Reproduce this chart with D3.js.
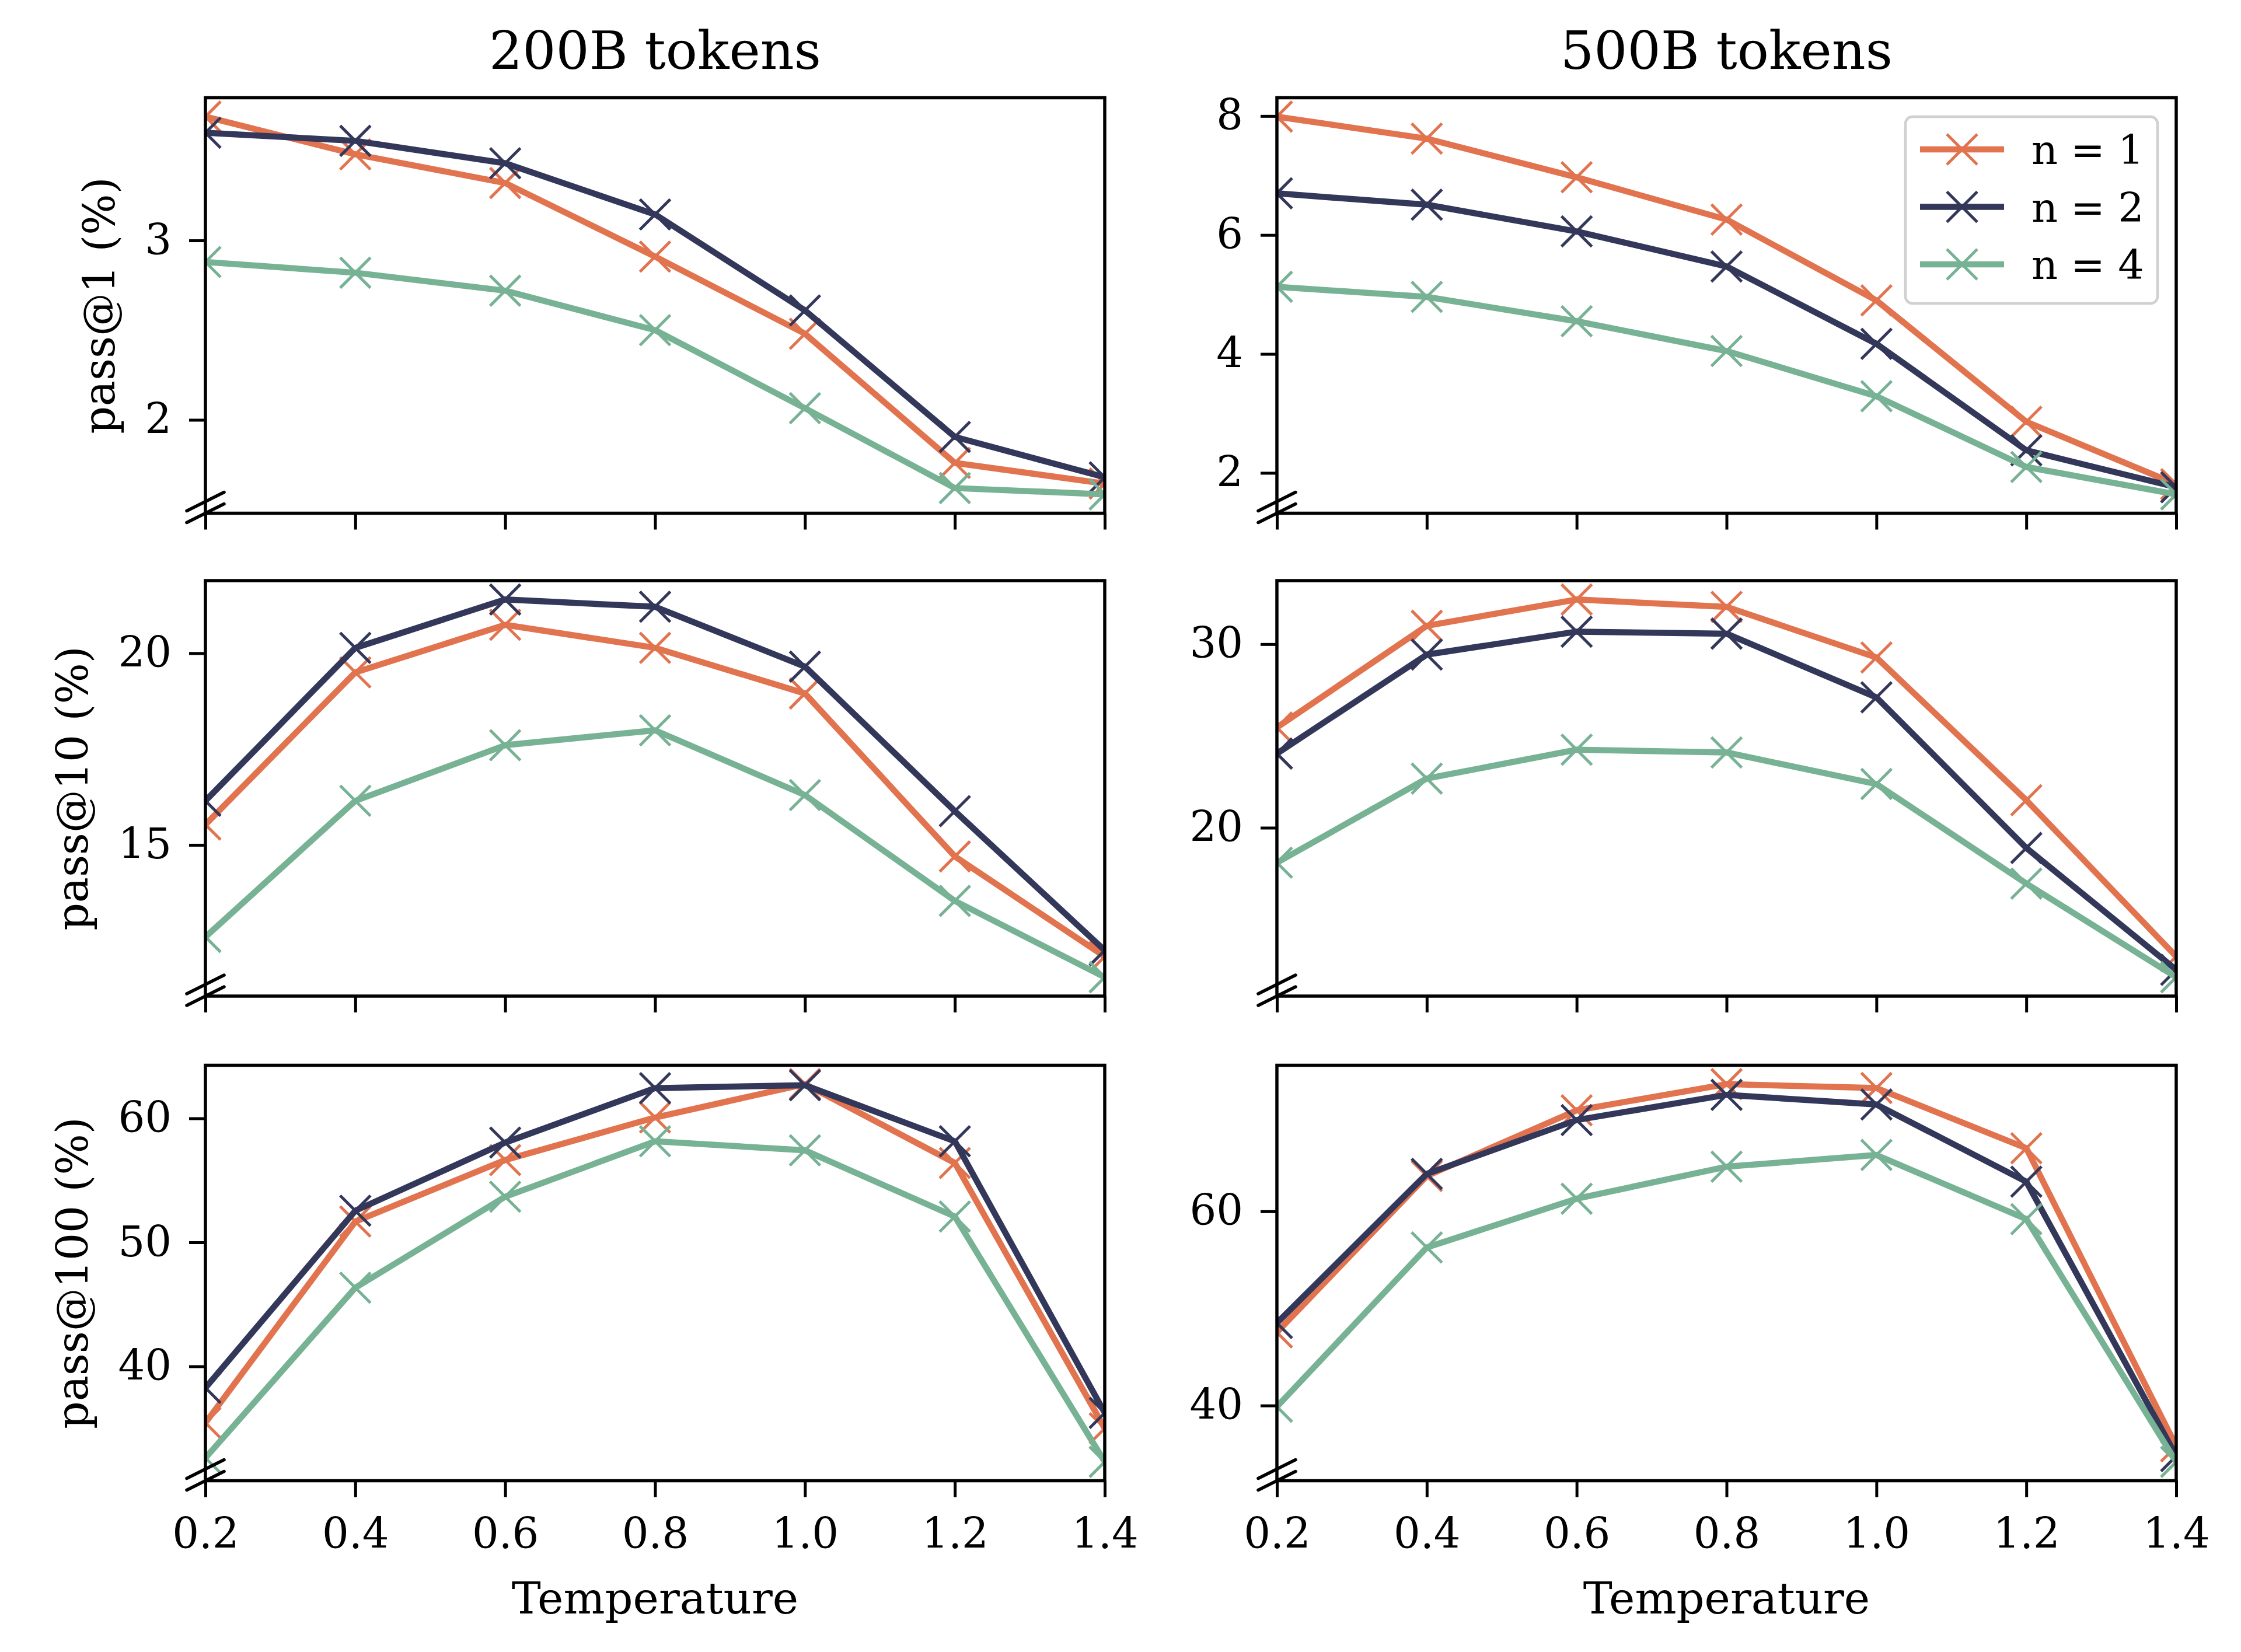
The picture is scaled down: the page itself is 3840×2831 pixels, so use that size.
<!DOCTYPE html>
<html>
<head>
<meta charset="utf-8">
<script src="https://cdn.jsdelivr.net/npm/d3@7"></script>
<style>
  html, body { margin: 0; padding: 0; background: #fff; }
  text { font-family: "DejaVu Serif", serif; fill: #000; }
</style>
</head>
<body>
<div id="chart"></div>
<script>
// x values shared by every panel
const temperatures = [0.2, 0.4, 0.6, 0.8, 1.0, 1.2, 1.4];
const seriesLabels = ["n = 1", "n = 2", "n = 4"];
const seriesColors = ["#E2734F", "#33375A", "#77B295"];
const columnTitles = ["200B tokens", "500B tokens"];
const rowLabels = ["pass@1 (%)", "pass@10 (%)", "pass@100 (%)"];

// pass@1, 200B tokens
const p1_200B_n1 = [3.69, 3.48, 3.32, 2.91, 2.48, 1.76, 1.645];
const p1_200B_n2 = [3.60, 3.555, 3.43, 3.145, 2.61, 1.905, 1.68];
const p1_200B_n4 = [2.88, 2.82, 2.72, 2.50, 2.065, 1.62, 1.585];
// pass@1, 500B tokens
const p1_500B_n1 = [7.99, 7.62, 6.97, 6.26, 4.90, 2.86, 1.81];
const p1_500B_n2 = [6.70, 6.51, 6.06, 5.47, 4.17, 2.38, 1.76];
const p1_500B_n4 = [5.13, 4.96, 4.55, 4.05, 3.29, 2.10, 1.64];
// pass@10, 200B tokens
const p10_200B_n1 = [15.53, 19.5, 20.74, 20.14, 18.95, 14.70, 12.09];
const p10_200B_n2 = [16.15, 20.14, 21.4, 21.21, 19.65, 15.88, 12.25];
const p10_200B_n4 = [12.6, 16.15, 17.6, 17.99, 16.3, 13.54, 11.55];
// pass@10, 500B tokens
const p10_500B_n1 = [25.46, 31.0, 32.43, 32.03, 29.27, 21.5, 12.99];
const p10_500B_n2 = [24.04, 29.43, 30.68, 30.57, 27.1, 18.9, 12.26];
const p10_500B_n4 = [18.1, 22.68, 24.25, 24.1, 22.38, 16.96, 11.86];
// pass@100, 200B tokens
const p100_200B_n1 = [35.45, 51.68, 56.64, 60.07, 62.76, 56.4, 35.0];
const p100_200B_n2 = [38.27, 52.55, 58.05, 62.44, 62.67, 58.15, 36.25];
const p100_200B_n4 = [32.62, 46.34, 53.68, 58.15, 57.42, 52.08, 32.3];
// pass@100, 500B tokens
const p100_500B_n1 = [47.54, 63.64, 70.4, 73.1, 72.7, 66.5, 35.8];
const p100_500B_n2 = [48.5, 63.86, 69.4, 72.0, 71.0, 63.05, 34.8];
const p100_500B_n4 = [39.88, 56.28, 61.3, 64.6, 65.8, 59.2, 34.2];

// y tick values per panel
const yTicks_p1_200B = [2, 3];
const yTicks_p1_500B = [2, 4, 6, 8];
const yTicks_p10_200B = [15, 20];
const yTicks_p10_500B = [20, 30];
const yTicks_p100_200B = [40, 50, 60];
const yTicks_p100_500B = [40, 60];

const W = 3840, H = 2831;
const colLeft = [352, 2188];
const rowTop = [167.5, 995, 1825.5];
const pw = 1541, ph = 712;

const panels = [
    {row: 0, col: 0, series: [p1_200B_n1, p1_200B_n2, p1_200B_n4], ticks: yTicks_p1_200B},
    {row: 0, col: 1, series: [p1_500B_n1, p1_500B_n2, p1_500B_n4], ticks: yTicks_p1_500B},
    {row: 1, col: 0, series: [p10_200B_n1, p10_200B_n2, p10_200B_n4], ticks: yTicks_p10_200B},
    {row: 1, col: 1, series: [p10_500B_n1, p10_500B_n2, p10_500B_n4], ticks: yTicks_p10_500B},
    {row: 2, col: 0, series: [p100_200B_n1, p100_200B_n2, p100_200B_n4], ticks: yTicks_p100_200B},
    {row: 2, col: 1, series: [p100_500B_n1, p100_500B_n2, p100_500B_n4], ticks: yTicks_p100_500B}
];

const svg = d3.select("#chart").append("svg")
    .attr("width", W)
    .attr("height", H);

const crossPath = s => `M${-s},${-s}L${s},${s}M${-s},${s}L${s},${-s}`;

panels.forEach((p, idx) => {
    const g = svg.append("g")
        .attr("transform", `translate(${colLeft[p.col]},${rowTop[p.row]})`);

    const x = d3.scaleLinear().domain([0.2, 1.4]).range([0, pw]);
    // matplotlib style auto limits: 5% margin on the data extent
    const ext = d3.extent(p.series.flat());
    const m = (ext[1] - ext[0]) * 0.05;
    const y = d3.scaleLinear().domain([ext[0] - m, ext[1] + m]).range([ph, 0]);

    const clipId = "clip" + idx;
    g.append("clipPath").attr("id", clipId)
        .append("rect").attr("width", pw).attr("height", ph);

    const plot = g.append("g").attr("clip-path", `url(#${clipId})`);
    const line = d3.line().x((d, i) => x(temperatures[i])).y(d => y(d));

    p.series.forEach((vals, s) => {
        plot.append("path")
            .datum(vals)
            .attr("d", line)
            .attr("fill", "none")
            .attr("stroke", seriesColors[s])
            .attr("stroke-width", 10.5)
            .attr("stroke-linejoin", "round")
            .attr("stroke-linecap", "square");
        plot.selectAll(null)
            .data(vals)
            .enter()
            .append("path")
            .attr("transform", (d, i) => `translate(${x(temperatures[i])},${y(d)})`)
            .attr("d", crossPath(26))
            .attr("stroke", seriesColors[s])
            .attr("stroke-width", 5)
            .attr("fill", "none");
    });

    // axes
    const xAxis = g.append("g")
        .attr("transform", `translate(0,${ph})`)
        .call(d3.axisBottom(x)
            .tickValues(temperatures)
            .tickSize(28)
            .tickPadding(36)
            .tickFormat(p.row === 2 ? d3.format(".1f") : () => ""));
    const yAxis = g.append("g")
        .call(d3.axisLeft(y)
            .tickValues(p.ticks)
            .tickSize(28)
            .tickPadding(30)
            .tickFormat(d3.format("d")));

    [xAxis, yAxis].forEach(a => {
        a.select(".domain").remove();
        a.selectAll(".tick line").attr("stroke", "#000").attr("stroke-width", 5);
        a.selectAll(".tick text")
            .attr("font-family", "DejaVu Serif")
            .attr("font-size", 72)
            .attr("fill", "#000");
    });

    // spines on top of the lines
    g.append("rect")
        .attr("width", pw)
        .attr("height", ph)
        .attr("fill", "none")
        .attr("stroke", "#000")
        .attr("stroke-width", 5.5);

    // broken axis marks at the lower left corner
    [0, -20].forEach(off => {
        g.append("line")
            .attr("x1", -32).attr("y1", ph + off + 16)
            .attr("x2", 32).attr("y2", ph + off - 16)
            .attr("stroke", "#000")
            .attr("stroke-width", 5.5)
            .attr("stroke-linecap", "round");
    });

    if (p.col === 0) {
        const bb = yAxis.node().getBBox();
        g.append("text")
            .attr("transform", `translate(${bb.x - 52},${ph / 2}) rotate(-90)`)
            .attr("text-anchor", "middle")
            .attr("font-size", 74)
            .text(rowLabels[p.row]);
    }
    if (p.row === 0) {
        g.append("text")
            .attr("x", pw / 2)
            .attr("y", 118 - rowTop[0])
            .attr("text-anchor", "middle")
            .attr("font-size", 90)
            .text(columnTitles[p.col]);
    }
    if (p.row === 2) {
        g.append("text")
            .attr("x", pw / 2)
            .attr("y", 2765 - rowTop[2])
            .attr("text-anchor", "middle")
            .attr("font-size", 75)
            .text("Temperature");
    }

    // legend in the top right panel
    if (p.row === 0 && p.col === 1) {
        const lg = g.append("g")
            .attr("transform", `translate(${3265 - colLeft[1]},${200 - rowTop[0]})`);
        lg.append("rect")
            .attr("width", 432)
            .attr("height", 320)
            .attr("rx", 12)
            .attr("fill", "#fff")
            .attr("fill-opacity", 0.8)
            .attr("stroke", "#d0d0d0")
            .attr("stroke-width", 4.5);
        seriesLabels.forEach((lab, s) => {
            const cy = 56 + s * 98.5;
            lg.append("line")
                .attr("x1", 25).attr("x2", 169)
                .attr("y1", cy).attr("y2", cy)
                .attr("stroke", seriesColors[s])
                .attr("stroke-width", 10.5);
            lg.append("path")
                .attr("transform", `translate(97,${cy})`)
                .attr("d", crossPath(26))
                .attr("stroke", seriesColors[s])
                .attr("stroke-width", 5)
                .attr("fill", "none");
            lg.append("text")
                .attr("x", 216)
                .attr("y", cy)
                .attr("dy", "0.36em")
                .attr("font-size", 70)
                .text(lab);
        });
    }
});
</script>
</body>
</html>
